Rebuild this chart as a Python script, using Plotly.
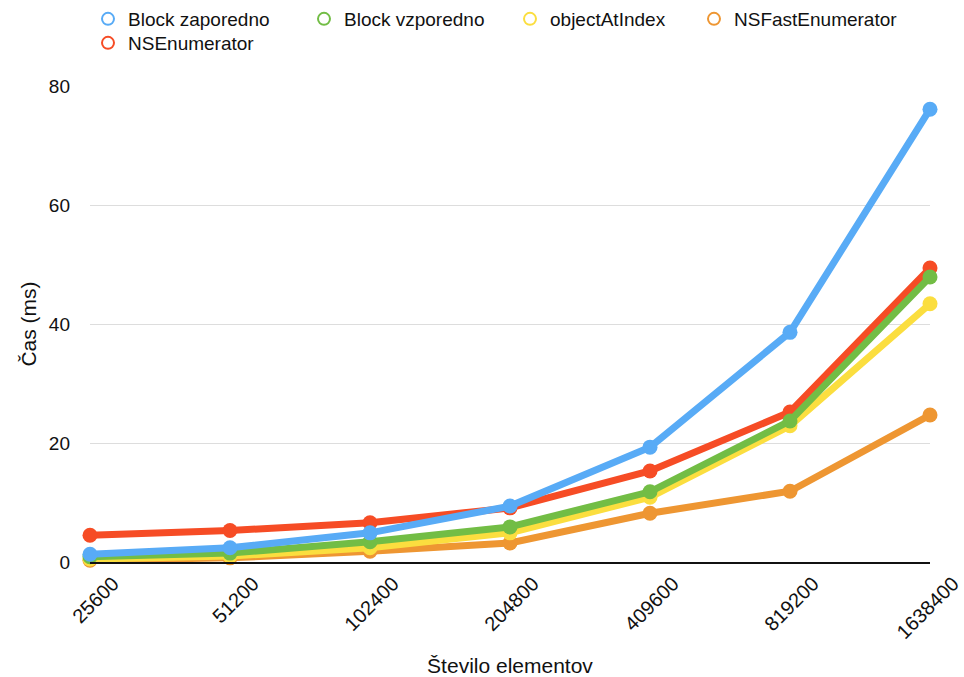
import plotly.graph_objects as go

# Number of elements (category axis)
elementi = ["25600", "51200", "102400", "204800", "409600", "819200", "1638400"]

# Measured times in milliseconds
block_zaporedno = [1.3, 2.4, 4.9, 9.4, 19.3, 38.6, 76.1]
block_vzporedno = [0.9, 1.5, 3.4, 5.9, 11.8, 23.7, 47.9]
object_at_index = [0.5, 1.0, 2.4, 4.9, 10.9, 22.9, 43.4]
ns_fast_enumerator = [0.3, 0.7, 1.8, 3.2, 8.2, 11.9, 24.7]
ns_enumerator = [4.5, 5.3, 6.6, 9.1, 15.3, 25.2, 49.4]

y_ticks = [0, 20, 40, 60, 80]

series = [
    ("Block zaporedno", block_zaporedno, "#58ABF6"),
    ("Block vzporedno", block_vzporedno, "#72BD45"),
    ("objectAtIndex", object_at_index, "#FBDE3F"),
    ("NSFastEnumerator", ns_fast_enumerator, "#EE9632"),
    ("NSEnumerator", ns_enumerator, "#F64C25"),
]
draw_order = ["NSEnumerator", "NSFastEnumerator", "objectAtIndex", "Block vzporedno", "Block zaporedno"]

# Placement of each legend entry (left edge, top edge) in pixels of the page
W, H = 964, 677
legend_slots = [(88, 0), (304, 0), (510, 0), (694, 0), (88, 24)]

FONT = "Liberation Sans, Arial, Helvetica, sans-serif"

fig = go.Figure()

lookup = {name: (vals, col) for name, vals, col in series}
for name in draw_order:
    vals, col = lookup[name]
    fig.add_trace(go.Scatter(
        x=elementi, y=vals, mode="lines+markers", name=name,
        line=dict(color=col, width=7),
        marker=dict(color=col, size=15),
        cliponaxis=False, showlegend=False,
    ))

# Legend entries shown as open rings, one small legend per entry
legend_layouts = {}
for i, ((name, vals, col), (lx, ly)) in enumerate(zip(series, legend_slots)):
    key = "legend" if i == 0 else f"legend{i + 1}"
    fig.add_trace(go.Scatter(
        x=[None], y=[None], mode="markers", name=name,
        marker=dict(symbol="circle-open", color=col, size=9, line=dict(width=3)),
        showlegend=True, legend=key,
    ))
    legend_layouts[key] = dict(
        orientation="h", xref="container", yref="container",
        x=lx / W, xanchor="left", y=1.0 - ly / H, yanchor="top",
        font=dict(size=19), itemsizing="constant",
        bgcolor="rgba(0,0,0,0)",
    )

fig.update_layout(
    width=W, height=H,
    margin=dict(l=90, r=34, t=86, b=115, autoexpand=False),
    paper_bgcolor="white", plot_bgcolor="white",
    font=dict(family=FONT, size=19, color="#111"),
    xaxis=dict(
        type="category", range=[0, 6], tickangle=-45,
        showgrid=False, showline=True, linecolor="#111", linewidth=2,
        ticks="", tickfont=dict(size=20), ticklabelshift=23,
        title=dict(text="Število elementov", font=dict(size=21), standoff=16),
    ),
    yaxis=dict(
        range=[0, 80], tickvals=y_ticks, showgrid=True, gridcolor="#DDDDDD",
        gridwidth=1, zeroline=False, showline=False, ticks="",
        ticklabelstandoff=19, tickfont=dict(size=19),
        title=dict(text="Čas (ms)", font=dict(size=21), standoff=6),
    ),
    **legend_layouts,
)

fig.write_html("out.html")
